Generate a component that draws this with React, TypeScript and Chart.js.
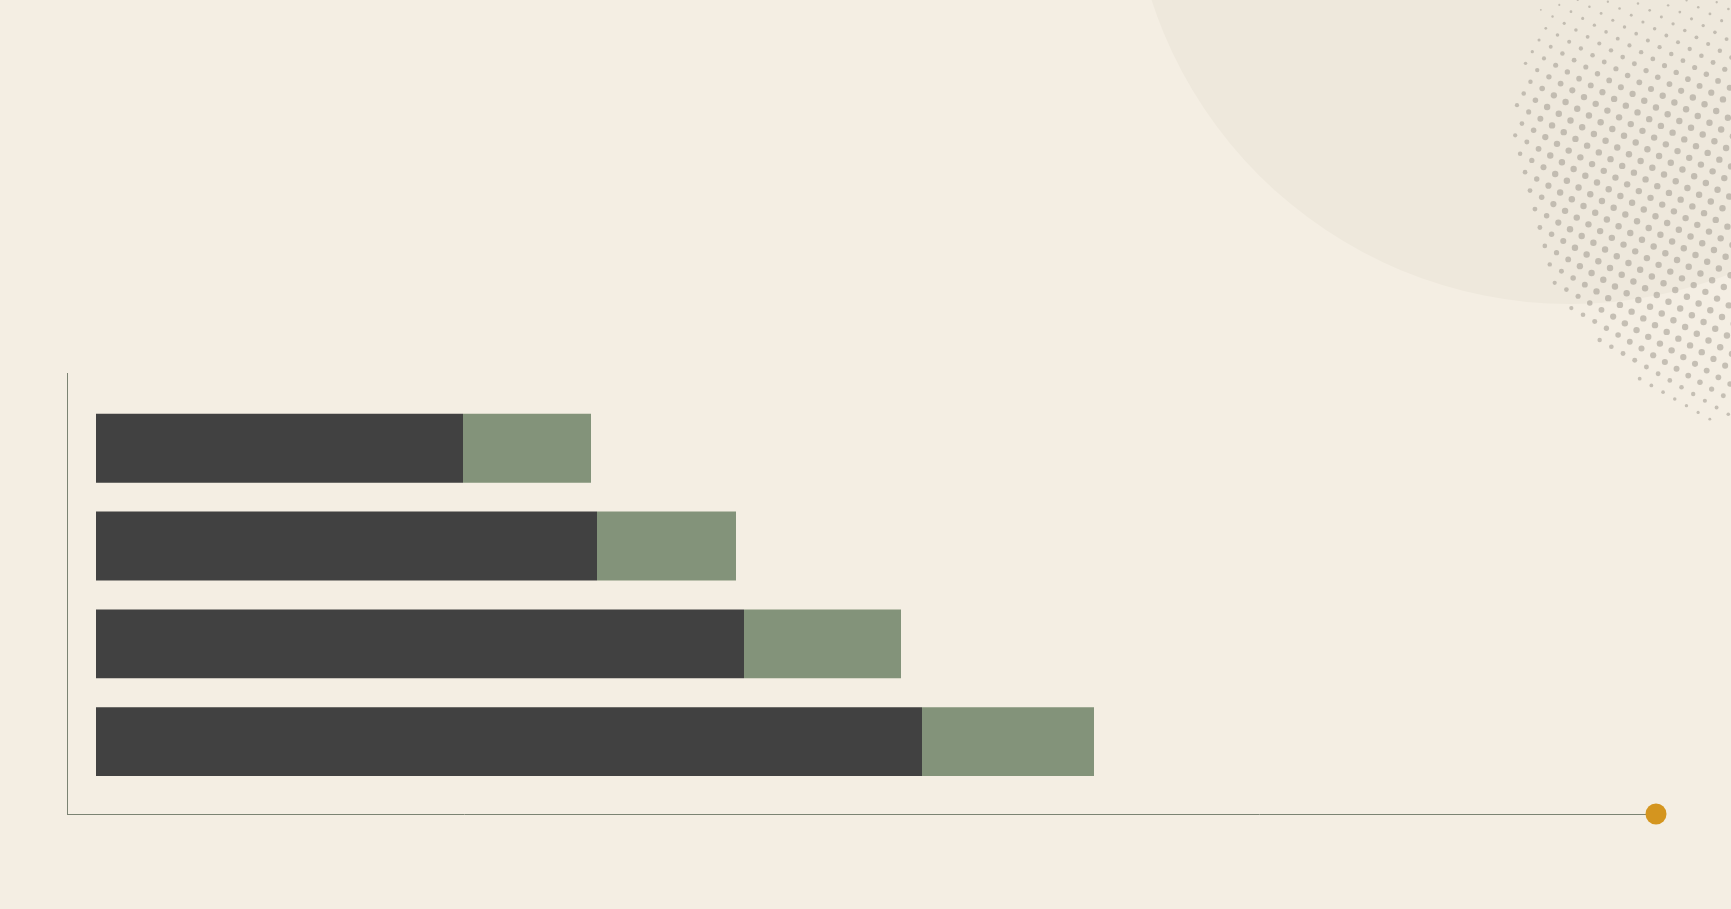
import { useEffect, useRef } from 'react';
import { Chart, registerables } from 'chart.js';

Chart.register(...registerables);

// row positions, top to bottom (no labels shown in the picture)
const rows = [1, 2, 3, 4];
const darkPart = [36.7, 50.1, 64.8, 82.6];
const greenPart = [12.8, 13.9, 15.7, 17.2];
const xRange = [-2.9, 156];
const yRange = [0.23, 4.74];

const paper = '#f4eee3';
const ink = '#414141';
const sage = '#83937a';
const axisColor = '#7b8373';
const marker = '#d4951f';

// paper colour, pale disc and halftone patch in the top right corner
const backdrop = {
  id: 'backdrop',
  beforeDraw(chart: any) {
    const { ctx, width, height } = chart;
    ctx.save();
    ctx.fillStyle = paper;
    ctx.fillRect(0, 0, width, height);

    ctx.fillStyle = '#eee8dc';
    ctx.beginPath();
    ctx.arc(width - 161, -136, 440, 0, Math.PI * 2);
    ctx.fill();

    // halftone: square lattice turned by 30 degrees, clipped to a circle
    const cx = width + 99;
    const cy = 130;
    const r = 315;
    const s = 13.5;
    const cos = Math.cos(Math.PI / 6);
    const sin = Math.sin(Math.PI / 6);
    ctx.fillStyle = 'rgba(150, 143, 133, 0.5)';
    for (let i = -30; i <= 30; i++) {
      for (let j = -30; j <= 30; j++) {
        const x = cx + i * s * cos - j * s * sin;
        const y = cy + i * s * sin + j * s * cos;
        if (x > width + 4 || y < -4) continue;
        const d = Math.hypot(x - cx, y - cy);
        if (d > r) continue;
        const top = Math.min(1, 0.35 + y / 150);
        const low = Math.min(1, 0.55 + (cy + r - y) / 200);
        const side = Math.min(1, 0.65 + (r - d) / 90);
        const rad = 3.2 * top * low * side;
        if (rad < 0.8) continue;
        ctx.beginPath();
        ctx.arc(x, y, rad, 0, Math.PI * 2);
        ctx.fill();
      }
    }
    ctx.restore();
  },
};

// orange dot at the end of the x axis
const endDot = {
  id: 'endDot',
  afterDraw(chart: any) {
    const { ctx, chartArea } = chart;
    ctx.save();
    ctx.fillStyle = marker;
    ctx.beginPath();
    ctx.arc(chartArea.right, chartArea.bottom, 10.5, 0, Math.PI * 2);
    ctx.fill();
    ctx.restore();
  },
};

export default function App() {
  const canvasRef = useRef<HTMLCanvasElement>(null);

  useEffect(() => {
    if (!canvasRef.current) return;
    const chart = new Chart(canvasRef.current, {
      type: 'bar',
      data: {
        datasets: [
          {
            data: rows.map((y, i) => ({ x: darkPart[i], y })),
            backgroundColor: ink,
            borderWidth: 0,
          },
          {
            data: rows.map((y, i) => ({ x: greenPart[i], y })),
            backgroundColor: sage,
            borderWidth: 0,
          },
        ],
      },
      options: {
        indexAxis: 'y',
        responsive: true,
        maintainAspectRatio: false,
        animation: false,
        events: [],
        layout: { padding: { left: 67, top: 373, right: 75, bottom: 95 } },
        datasets: { bar: { barPercentage: 0.705, categoryPercentage: 1 } },
        plugins: { legend: { display: false }, tooltip: { enabled: false } },
        scales: {
          x: {
            type: 'linear',
            stacked: true,
            min: xRange[0],
            max: xRange[1],
            ticks: { display: false },
            grid: { display: false, drawTicks: false },
            border: { display: true, color: axisColor, width: 1 },
          },
          y: {
            type: 'linear',
            stacked: true,
            reverse: true,
            offset: false,
            min: yRange[0],
            max: yRange[1],
            // one tick per row so the bar thickness follows the row spacing
            afterBuildTicks: (axis: any) => {
              axis.ticks = rows.map((v) => ({ value: v }));
            },
            ticks: { display: false },
            grid: { display: false, drawTicks: false, offset: false },
            border: { display: true, color: axisColor, width: 1 },
          },
        },
      },
      plugins: [backdrop, endDot],
    } as any);
    return () => chart.destroy();
  }, []);

  return (
    <div style={{ position: 'fixed', inset: 0, background: paper }}>
      <canvas ref={canvasRef}></canvas>
    </div>
  );
}
